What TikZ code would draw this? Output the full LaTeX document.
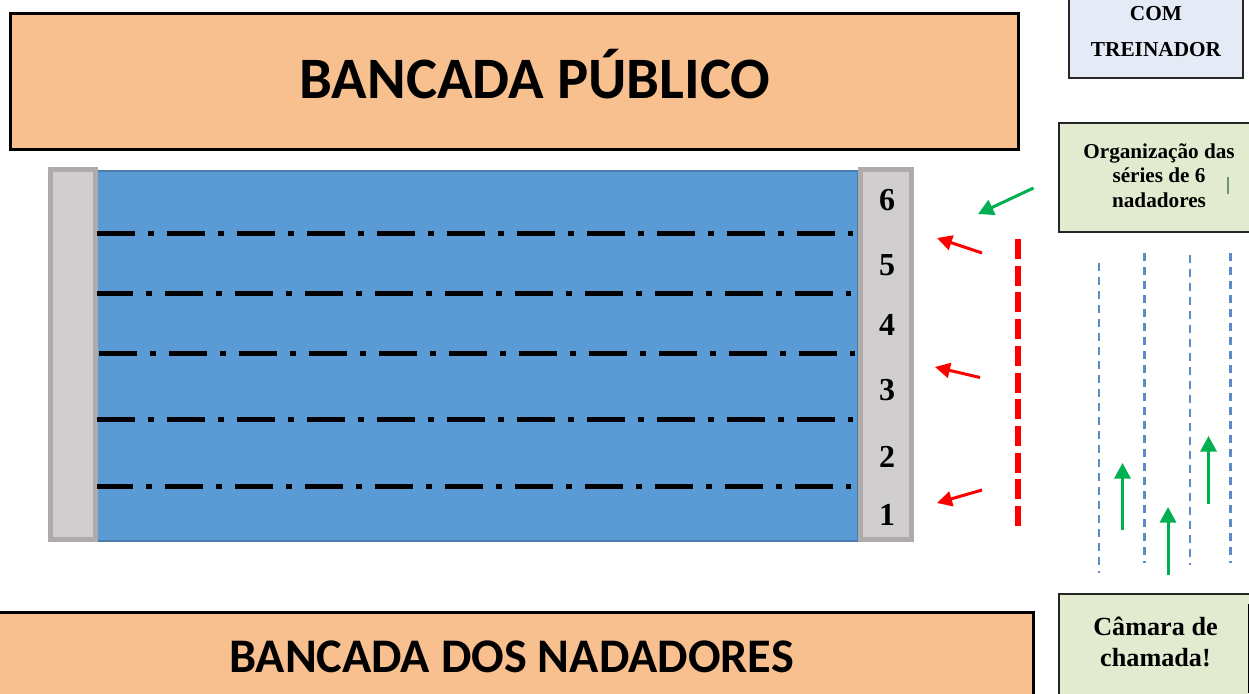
\documentclass[tikz,border=0pt]{standalone}
\usepackage{fontspec}
\setmainfont{Liberation Serif}
\newfontfamily\calib{Carlito}
\usetikzlibrary{arrows.meta}
\definecolor{orangeB}{HTML}{F8BF8F}
\definecolor{poolB}{HTML}{5B9BD5}
\definecolor{poolE}{HTML}{4A7EB0}
\definecolor{blockF}{HTML}{D0CECE}
\definecolor{blockE}{HTML}{AFABAB}
\definecolor{greenB}{HTML}{E2EAD0}
\definecolor{blueB}{HTML}{E5EBF6}
\definecolor{arrG}{HTML}{00B050}
\definecolor{arrR}{HTML}{FF0000}
\definecolor{dashB}{HTML}{5B8CC8}
\tikzset{
  x=1pt,y=-1pt,
  stand/.style={draw=black,line width=3pt,fill=orangeB},
  block/.style={draw=blockE,line width=5pt,fill=blockF},
  infobox/.style={draw=black!85,line width=2pt},
  lane/.style={line width=5pt,draw=black,dash pattern=on 37.5pt off 13.5pt on 5.5pt off 13.5pt},
  bluedash/.style={draw=dashB,line width=2.2pt,dash pattern=on 8pt off 6pt},
  garrow/.style={draw=arrG,line width=3pt,-{Triangle[length=15.5pt,width=16pt,fill=arrG]}},
  rarrow/.style={draw=arrR,line width=3pt,-{Triangle[length=15pt,width=15pt,fill=arrR]}},
  num/.style={font=\fontsize{32}{32}\selectfont\bfseries,text=black,inner sep=0pt},
  big/.style={font=\calib\fontsize{58.7}{58.7}\selectfont\bfseries,text=black,inner sep=0pt},
  mid/.style={font=\calib\fontsize{48.3}{48.3}\selectfont\bfseries,text=black,inner sep=0pt},
  lab/.style={font=\bfseries,text=black,inner sep=0pt,align=center},
}
\begin{document}
\begin{tikzpicture}
\useasboundingbox (0,0) rectangle (1249,693);
\clip (0,0) rectangle (1249,693);
\fill[white] (0,0) rectangle (1249,693);
% stands
\draw[stand] (10,13.5) rectangle (1018,149.5);
\draw[stand] (-6,612.5) rectangle (1033,705);
\node[big] (publico) at (535,74.5) {BANCADA PÚBLICO};
\node[mid] (nadadores) at (511.5,657) {BANCADA DOS NADADORES};
% pool
\draw[draw=poolE,line width=2pt,fill=poolB] (97,170.5) rectangle (858,541);
\draw[block] (50,169.5) rectangle (95,539.5);
\draw[block] (860,169.5) rectangle (911,539.5);
\draw[lane] (97,233.5) -- (853,233.5);
\draw[lane,dash phase=2pt] (97,293.5) -- (851,293.5);
\draw[lane] (99,353.5) -- (855,353.5);
\draw[lane] (97,419.5) -- (853,419.5);
\draw[lane,dash phase=2pt] (97,486.5) -- (851,486.5);
% lane numbers
\node[num] (n6) at (887,200.5) {6};
\node[num] (n5) at (887,265.5) {5};
\node[num] (n4) at (887,324.5) {4};
\node[num] (n3) at (887,390.5) {3};
\node[num] (n2) at (887,456.5) {2};
\node[num] (n1) at (887,514.5) {1};
% right boxes
\draw[infobox,fill=blueB] (1068.5,-6) rectangle (1242.5,78);
\node[lab,font=\bfseries\fontsize{21.3}{36}\selectfont] (treinador) at (1156,31.5) {COM\\[0pt]TREINADOR};
\draw[infobox,fill=greenB] (1058.5,122.5) rectangle (1256,232);
\node[lab,font=\bfseries\fontsize{21.2}{24.5}\selectfont] (org) at (1159,175.5) {Organização das\\séries de 6\\nadadores};
\draw[draw=gray!80!green,line width=1.5pt] (1228,177) -- (1228,194);
\draw[infobox,fill=greenB] (1058.5,594) rectangle (1256,705);
\draw[draw=black,line width=2pt] (1248.5,604) -- (1248.5,693);
\node[lab,font=\bfseries\fontsize{26.2}{31}\selectfont] (camara) at (1155.5,642) {Câmara de\\chamada!};
% red barrier
\draw[draw=arrR,line width=6.7pt,dash pattern=on 20pt off 6.7pt] (1018,239) -- (1018,526);
% blue dashed
\draw[bluedash] (1099,263) -- (1099,573);
\draw[bluedash] (1144.5,253) -- (1144.5,563);
\draw[bluedash] (1190,255) -- (1190,565);
\draw[bluedash] (1230.5,253) -- (1230.5,563);
% arrows
\draw[garrow] (1033.5,188) -- (978,214);
\draw[garrow] (1122.5,530) -- (1122.5,463);
\draw[garrow] (1168,575) -- (1168,507);
\draw[garrow] (1208.5,504) -- (1208.5,436);
\draw[rarrow] (982,253) -- (937,238);
\draw[rarrow] (980,377.5) -- (935,367);
\draw[rarrow] (982,490) -- (937,503);
\end{tikzpicture}
\end{document}
